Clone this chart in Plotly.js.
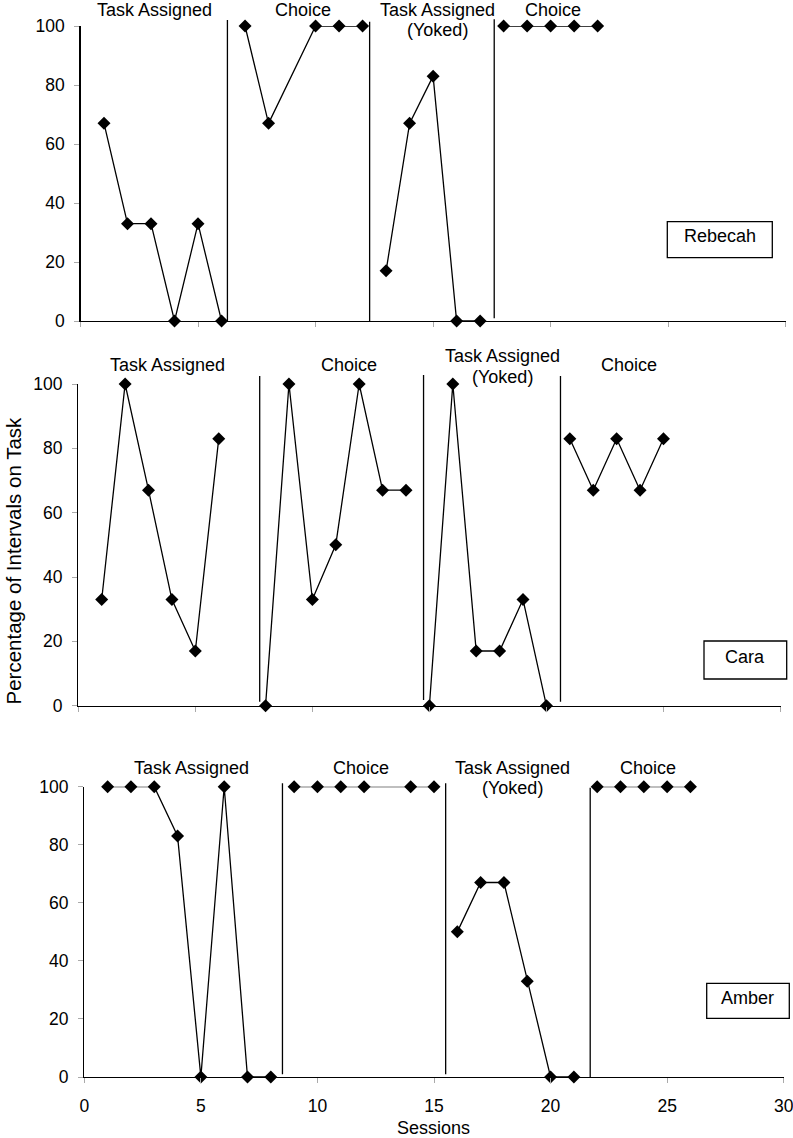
<!DOCTYPE html>
<html>
<head>
<meta charset="utf-8">
<script src="https://cdn.plot.ly/plotly-3.0.1.min.js"></script>
<style>html,body{margin:0;padding:0;background:#fff;}#chart{width:793px;height:1138px;}</style>
</head>
<body>
<div id="chart"></div>
<script>
// ---- Data (sessions; null separates phases) ----
const rebecahSessions = [1,2,3,4,5,6,null,7,8,10,11,12,null,13,14,15,16,17,null,18,19,20,21,22];
const rebecahValues   = [67,33,33,0,33,0,null,100,67,100,100,100,null,17,67,83,0,0,null,100,100,100,100,100];
const rebecahPhaseChanges = [6.25, 12.3, 17.6];

const caraSessions = [1,2,3,4,5,6,null,8,9,10,11,12,13,14,null,15,16,17,18,19,20,null,21,22,23,24,25];
const caraValues   = [33,100,67,33,17,83,null,0,100,33,50,100,67,67,null,0,100,17,17,33,0,null,83,67,83,67,83];
const caraPhaseChanges = [7.75, 14.75, 20.6];

const amberSessions = [1,2,3,4,5,6,7,8,null,9,10,11,12,14,15,null,16,17,18,19,20,21,null,22,23,24,25,26];
const amberValues   = [100,100,100,83,0,100,0,0,null,100,100,100,100,100,100,null,50,67,67,33,0,0,null,100,100,100,100,100];
const amberPhaseChanges = [8.5, 15.5, 21.7];

const phaseNames = ["Task Assigned", "Choice", "Task Assigned", "Choice"];
const yokedNote = "(Yoked)";
const participants = ["Rebecah", "Cara", "Amber"];
const xTicks = [0,5,10,15,20,25,30];
const yTicks = [0,20,40,60,80,100];
const yTitle = "Percentage of Intervals on Task";
const xTitle = "Sessions";

// ---- Layout helpers (pixel -> paper) ----
const W = 793, H = 1138;
const FONT = "Liberation Sans, Arial, Helvetica, sans-serif";
const px = v => v / W;
const py = v => 1 - v / H;

function trace(xs, ys, xa, ya) {
  return {
    x: xs, y: ys, xaxis: xa, yaxis: ya, type: 'scatter', mode: 'lines+markers',
    connectgaps: false, cliponaxis: false, showlegend: false, hoverinfo: 'skip',
    line: {color: '#000', width: 1.3},
    marker: {symbol: 'diamond', size: 10, color: '#000'}
  };
}

const data = [
  trace(rebecahSessions, rebecahValues, 'x', 'y'),
  trace(caraSessions, caraValues, 'x2', 'y2'),
  trace(amberSessions, amberValues, 'x3', 'y3')
];

function xAxis(domain, showLabels) {
  return {
    domain: domain, range: [0, 30], tickvals: xTicks, ticktext: xTicks.map(String),
    showticklabels: showLabels, showline: true, linecolor: '#000', linewidth: 1.3,
    ticks: 'outside', ticklen: 5, tickwidth: 1, tickcolor: '#aaa',
    showgrid: false, zeroline: false, fixedrange: true, ticklabelstandoff: 8,
    ticklabeloverflow: 'allow',
    tickfont: {family: FONT, size: 17.5, color: '#000'}
  };
}
function yAxis(domain) {
  return {
    domain: domain, range: [0, 100], tickvals: yTicks, ticktext: yTicks.map(String),
    showline: true, linecolor: '#000', linewidth: 1.3,
    ticks: 'outside', ticklen: 5, tickwidth: 1, tickcolor: '#aaa',
    showgrid: false, zeroline: false, fixedrange: true, ticklabelstandoff: 6,
    tickfont: {family: FONT, size: 17.5, color: '#000'}
  };
}

const panels = [
  {xa: 'x', phases: rebecahPhaseChanges, lineTops: [20, 21.7, 19.3], lineBottoms: [321, 321, 318.3],
   labels: [[154, 10], [303, 10], [437, 10], [552.7, 10]], yokedY: 30,
   box: [667.3, 221.7, 772.3, 257.7], name: participants[0], nameXY: [719.5, 236]},
  {xa: 'x2', phases: caraPhaseChanges, lineTops: [376, 375, 376], lineBottoms: [701.7, 700, 701.7],
   labels: [[167.5, 365], [349, 365], [502, 355.7], [628.7, 365]], yokedY: 376.7,
   box: [704, 641, 786.7, 679], name: participants[1], nameXY: [745, 657]},
  {xa: 'x3', phases: amberPhaseChanges, lineTops: [783.3, 783.3, 787.7], lineBottoms: [1074.3, 1074.3, 1077],
   labels: [[191.3, 767.7], [360.7, 767.7], [512.5, 767.7], [648, 767.7]], yokedY: 788.3,
   box: [706.7, 983.3, 789.3, 1018.3], name: participants[2], nameXY: [747, 998]}
];

const LBL = {family: FONT, size: 18, color: '#000'};
const shapes = [], annotations = [];
panels.forEach(p => {
  p.phases.forEach((xv, i) => {
    shapes.push({type: 'line', xref: p.xa, yref: 'paper', x0: xv, x1: xv,
      y0: py(p.lineBottoms[i]), y1: py(p.lineTops[i]), line: {color: '#000', width: 1.3}});
  });
  phaseNames.forEach((t, i) => {
    annotations.push({text: t, xref: 'paper', yref: 'paper', x: px(p.labels[i][0]), y: py(p.labels[i][1]),
      xanchor: 'center', yanchor: 'middle', showarrow: false, font: LBL});
  });
  annotations.push({text: yokedNote, xref: 'paper', yref: 'paper', x: px(p.labels[2][0]), y: py(p.yokedY),
    xanchor: 'center', yanchor: 'middle', showarrow: false, font: LBL});
  shapes.push({type: 'rect', xref: 'paper', yref: 'paper', x0: px(p.box[0]), x1: px(p.box[2]),
    y0: py(p.box[3]), y1: py(p.box[1]), line: {color: '#000', width: 1.3}, fillcolor: 'rgba(0,0,0,0)'});
  annotations.push({text: p.name, xref: 'paper', yref: 'paper', x: px(p.nameXY[0]), y: py(p.nameXY[1]),
    xanchor: 'center', yanchor: 'middle', showarrow: false, font: LBL});
});
annotations.push({text: yTitle, xref: 'paper', yref: 'paper', x: 0, y: py(561), textangle: -90,
  xanchor: 'left', yanchor: 'middle', showarrow: false, borderpad: 0,
  font: {family: FONT, size: 20.5, color: '#000'}});
annotations.push({text: xTitle, xref: 'paper', yref: 'paper', x: px(433.5), y: py(1128),
  xanchor: 'center', yanchor: 'middle', showarrow: false, font: LBL});

const layout = {
  width: W, height: H, margin: {l: 0, r: 0, t: 0, b: 0},
  paper_bgcolor: '#fff', plot_bgcolor: '#fff', showlegend: false,
  font: {family: FONT, size: 17, color: '#000'},
  xaxis: xAxis([px(80.5), px(785.7)], false),
  yaxis: yAxis([py(321), py(26)]),
  xaxis2: xAxis([px(78.3), px(780.5)], false),
  yaxis2: yAxis([py(705.7), py(384)]),
  xaxis3: xAxis([px(84.3), px(783.7)], true),
  yaxis3: yAxis([py(1077), py(786.7)]),
  shapes: shapes, annotations: annotations
};
layout.yaxis.anchor = 'x'; layout.xaxis.anchor = 'y';
layout.yaxis2.anchor = 'x2'; layout.xaxis2.anchor = 'y2';
layout.yaxis3.anchor = 'x3'; layout.xaxis3.anchor = 'y3';

Plotly.newPlot('chart', data, layout, {displayModeBar: false, staticPlot: true});
</script>
</body>
</html>
